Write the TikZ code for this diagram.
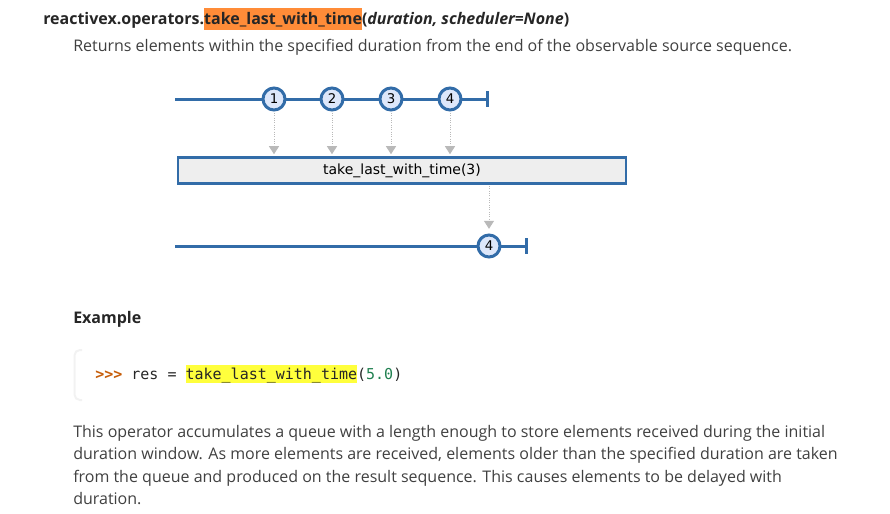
\documentclass[tikz,border=0pt]{standalone}
\usepackage{fontspec}
\setmainfont{Open Sans}
\setmonofont{DejaVu Sans Mono}
\newfontfamily\marblefont{DejaVu Sans}
\usetikzlibrary{arrows.meta}
\definecolor{marbleblue}{RGB}{50,108,168}
\definecolor{marblefill}{RGB}{221,231,250}
\definecolor{opfill}{RGB}{238,238,238}
\definecolor{tipgray}{RGB}{185,185,185}
\definecolor{hlorange}{RGB}{255,140,56}
\definecolor{hlyellow}{RGB}{255,255,60}
\definecolor{prompt}{RGB}{198,93,9}
\definecolor{numgreen}{RGB}{32,128,80}
\definecolor{bodytext}{RGB}{64,64,64}
\definecolor{headtext}{RGB}{38,38,38}
\begin{document}
\begin{tikzpicture}[x=0.75pt,y=-0.75pt,
    txt/.style={anchor=base west,inner sep=0pt,text=bodytext,font=\fontsize{12pt}{16pt}\selectfont},
    timeline/.style={marbleblue,line width=2.25pt,-{Bar[width=12pt,length=1pt]}},
    marble/.style={circle,draw=marbleblue,fill=marblefill,line width=2.25pt,minimum size=16.5pt,inner sep=0pt,font=\marblefont\fontsize{10pt}{10pt}\selectfont},
    opbox/.style={draw=marbleblue,fill=opfill,line width=1.9pt,minimum width=336pt,minimum height=19.5pt,inner sep=0pt,font=\marblefont\fontsize{10.5pt}{11pt}\selectfont},
    emit/.style={tipgray,densely dotted,line width=0.75pt,-{Triangle[width=7.5pt,length=6pt]}}]
\useasboundingbox (0,0) rectangle (890,514);
% heading
\node[txt,text=headtext] (title) at (43,25) {\bfseries reactivex.operators.{\setlength\fboxsep{0pt}\colorbox{hlorange}{\rule[-3.75pt]{0pt}{16.5pt}take\_last\_with\_time}}(\textit{duration, scheduler=None})};
\node[txt] (summary) at (73,51) {Returns elements within the specified duration from the end of the observable source sequence.};
% marble diagram
\coordinate (src0) at (175,99);
\coordinate (src1) at (489,99);
\coordinate (res0) at (175,246);
\coordinate (res1) at (528,246);
\draw[timeline] (src0) -- (src1);
\draw[timeline] (res0) -- (res1);
\foreach \v/\x in {1/274,2/332,3/391,4/450}
    \node[marble] (e\v) at (\x,99) {\v};
\node[opbox] (op) at (402,170.5) {take\_last\_with\_time(3)};
\node[marble] (out4) at (489,246) {4};
\foreach \v in {1,...,4}
    \draw[emit,shorten <=1pt,shorten >=1.5pt] (e\v.south) -- (e\v.south |- op.north);
\draw[emit,shorten <=1pt,shorten >=3.5pt] (op.south -| out4.north) -- (out4.north);
% example
\node[txt,text=headtext] (example) at (73,323) {\bfseries Example};
\draw[gray!10,line width=1.5pt,rounded corners=4pt] (82,350) -- (74.5,350) -- (74.5,400) -- (82,400);
\node[txt,font=\ttfamily\fontsize{11.25pt}{14pt}\selectfont,text=headtext] (code) at (95,379) {\textcolor{prompt}{\bfseries >{}>{}>} res = {\setlength\fboxsep{0pt}\colorbox{hlyellow}{\rule[-3pt]{0pt}{13.5pt}take\_last\_with\_time}}(\textcolor{numgreen}{5.0})};
% description
\node[txt] (line1) at (73,437) {This operator accumulates a queue with a length enough to store elements received during the initial};
\node[txt] (line2) at (73,459.5) {duration window. As more elements are received, elements older than the specified duration are taken};
\node[txt] (line3) at (73,482) {from the queue and produced on the result sequence. This causes elements to be delayed with};
\node[txt] (line4) at (73,504.5) {duration.};
\end{tikzpicture}
\end{document}
